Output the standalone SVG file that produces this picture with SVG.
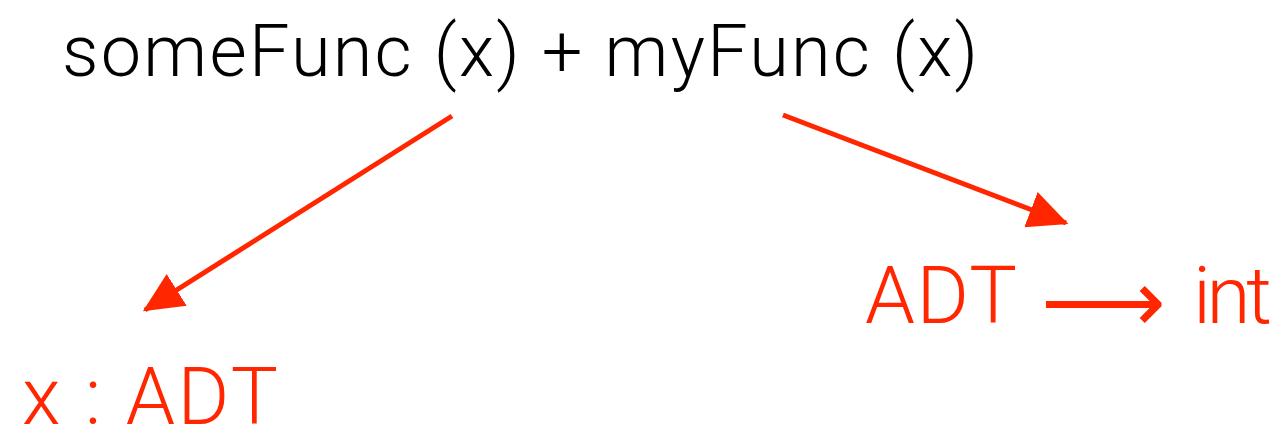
<svg xmlns="http://www.w3.org/2000/svg" width="1287" height="433" viewBox="0 0 1287 433">
<style>
.t{font-family:Roboto,"Liberation Sans",sans-serif;font-weight:300}
.r{fill:#ff2600}
.c{stroke:#ff2600;stroke-width:5;fill:none}
</style>
<defs>
<marker id="ah" markerUnits="userSpaceOnUse" markerWidth="40" markerHeight="40" viewBox="0 0 32 30" refX="30" refY="15" orient="auto">
<path d="M0,0 L32,15 L0,30 Z" fill="#ff2600"/>
</marker>
</defs>
<rect width="1287" height="433" fill="#fff"/>
<g id="expr"><text class="t" x="62" y="76" font-size="72" fill="#000" textLength="916" lengthAdjust="spacing">someFunc (x) + myFunc (x)</text></g>
<g id="xadt"><text class="t r" x="22" y="424" font-size="79" textLength="256" lengthAdjust="spacing">x : ADT</text></g>
<g id="adtint"><text class="t r" font-size="80"><tspan x="865" y="323" textLength="152" lengthAdjust="spacing">ADT</tspan><tspan x="1041" y="332" font-family="DejaVu Sans" font-weight="200" font-size="87">⟶</tspan><tspan x="1193" y="323" textLength="79" lengthAdjust="spacing">int</tspan></text></g>
<g id="connectors">
<line class="c" x1="452" y1="116" x2="145" y2="310" marker-end="url(#ah)"/>
<line class="c" x1="783" y1="115" x2="1066" y2="223" marker-end="url(#ah)"/>
</g>
</svg>
